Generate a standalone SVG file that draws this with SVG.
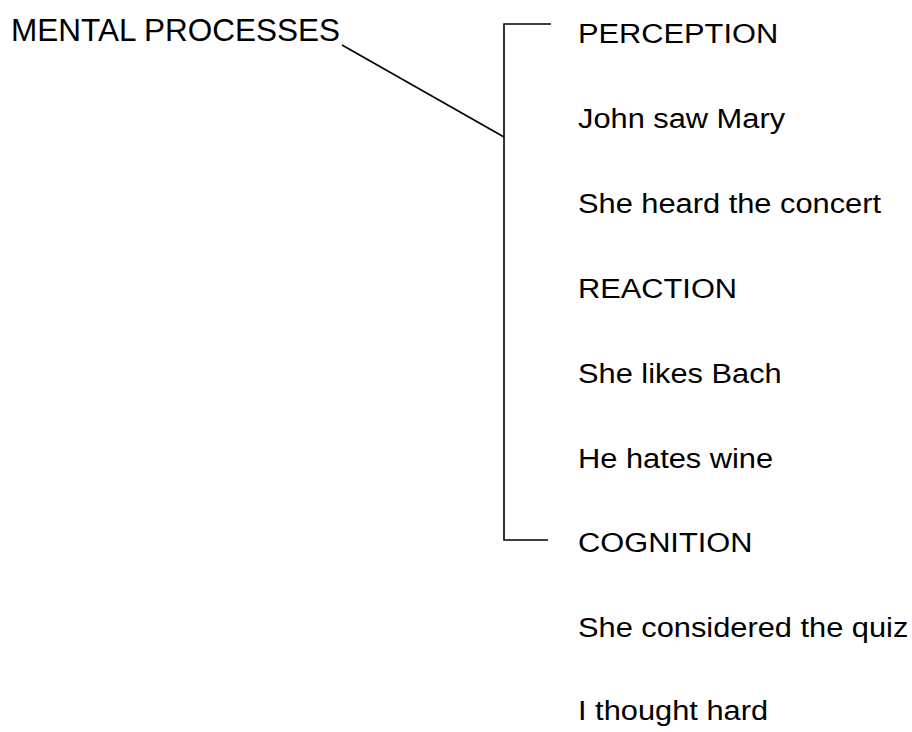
<svg xmlns="http://www.w3.org/2000/svg" width="912" height="732" viewBox="0 0 912 732">
<style>
text{font-family:"Liberation Sans",Arial,sans-serif;font-size:28px;fill:#000}
.big{font-size:31.5px}
.ln{stroke:#000;stroke-width:1.6;fill:none}
</style>
<rect width="912" height="732" fill="#fff"/>
<g id="root"><text class="big" x="11" y="41">MENTAL PROCESSES</text></g>
<g id="connectors">
<line class="ln" x1="342" y1="45" x2="504" y2="137"/>
<polyline class="ln" points="551,24 504,24 504,540 548,540"/>
</g>
<g id="perception" transform="translate(578,43) scale(1.1,1)"><text>PERCEPTION</text></g>
<g id="ex1" transform="translate(578,128) scale(1.1,1)"><text>John saw Mary</text></g>
<g id="ex2" transform="translate(578,213) scale(1.1,1)"><text>She heard the concert</text></g>
<g id="reaction" transform="translate(578,298) scale(1.1,1)"><text>REACTION</text></g>
<g id="ex3" transform="translate(578,383) scale(1.1,1)"><text>She likes Bach</text></g>
<g id="ex4" transform="translate(578,468) scale(1.1,1)"><text>He hates wine</text></g>
<g id="cognition" transform="translate(578,552) scale(1.1,1)"><text>COGNITION</text></g>
<g id="ex5" transform="translate(578,637) scale(1.1,1)"><text>She considered the quiz</text></g>
<g id="ex6" transform="translate(578,720) scale(1.1,1)"><text>I thought hard</text></g>
</svg>
